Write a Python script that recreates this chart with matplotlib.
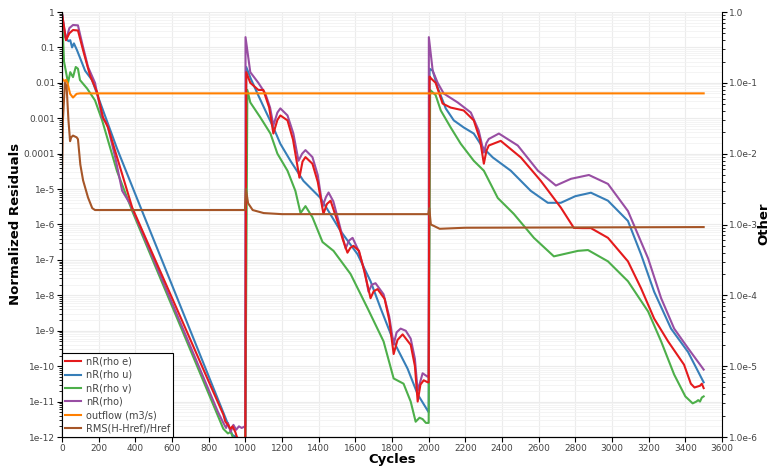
import matplotlib
matplotlib.use("Agg")
import matplotlib.pyplot as plt
import matplotlib.ticker as mticker
import numpy as np

plt.rcParams['font.family'] = ['DejaVu Sans']

# nR(rho)  (purple)
rho_x = [0, 22, 40, 60, 87, 110, 142, 180, 219, 246, 290, 328, 372, 450, 550, 650, 750, 850,
         880, 895, 905, 920, 935, 950, 965, 980, 998, 1000, 1001,
         1027, 1071, 1109, 1135, 1153, 1175, 1191, 1230, 1262, 1290, 1310, 1328, 1366, 1395, 1421, 1440,
         1454, 1480, 1503, 1547, 1565, 1585, 1618, 1650,
         1672, 1690, 1710, 1754, 1785, 1809, 1825, 1847, 1875, 1902, 1925, 1940, 1967, 1995, 2000, 2001,
         2022, 2049, 2082, 2158, 2230, 2273, 2301, 2315, 2328, 2383, 2486, 2596, 2694, 2776, 2874, 2978,
         3087, 3197, 3268, 3339, 3415, 3500]
rho_y = [9.0e-1, 1.6e-1, 3.5e-1, 4.3e-1, 4.2e-1, 1.3e-1, 2.8e-2, 1.0e-2, 1.05e-3, 7.0e-4, 8.0e-5, 9.0e-6,
         3.8e-6, 4.2e-7, 2.5e-8, 1.5e-9, 8.9e-11, 5.2e-12,
         2.5e-12, 1.8e-12, 2.5e-12, 1.4e-12, 2.2e-12, 1.6e-12, 2.0e-12, 1.8e-12, 2.0e-12, 2.0e-12, 1.95e-1,
         2.0e-2, 1.0e-2, 5.0e-3, 2.0e-3, 6.3e-4, 1.45e-3, 1.9e-3, 1.2e-3, 3.7e-4, 6.3e-5, 1.0e-4, 1.26e-4,
         8.0e-5, 2.5e-5, 3.2e-6, 6.0e-6,
         8.0e-6, 4.5e-6, 1.6e-6, 2.1e-7, 3.5e-7, 4.2e-7, 1.8e-7, 5.0e-8,
         1.26e-8, 2.0e-8, 2.2e-8, 1.07e-8, 2.5e-9, 4.1e-10, 9.0e-10, 1.15e-9, 1.0e-9, 6.0e-10, 1.6e-10,
         2.0e-11, 6.3e-11, 5.0e-11, 5.0e-11, 1.95e-1,
         2.2e-2, 1.0e-2, 5.0e-3, 2.8e-3, 1.45e-3, 4.5e-4, 1.07e-4, 2.0e-4, 2.6e-4, 3.7e-4, 1.7e-4, 3.3e-5,
         1.26e-5, 1.95e-5, 2.5e-5, 1.4e-5,
         2.4e-6, 1.1e-7, 8.3e-9, 1.15e-9, 3.2e-10, 8.0e-11]

# nR(rho e)  (red)
rhoe_x = [0, 22, 40, 60, 87, 115, 153, 191, 224, 251, 300, 383, 500, 650, 800, 880, 891, 905, 918, 930,
          945, 960, 1000, 1005,
          1027, 1071, 1098, 1130, 1153, 1175, 1191, 1230, 1260, 1295, 1312, 1328, 1366, 1395, 1426, 1445,
          1465, 1508, 1530, 1557, 1573,
          1590, 1620, 1650, 1683, 1700, 1721, 1760, 1785, 1809, 1830, 1858, 1902, 1925, 1940, 1955, 1973,
          1995, 2000, 2005,
          2015, 2038, 2076, 2120, 2191, 2246, 2280, 2301, 2315, 2328, 2393, 2503, 2612, 2721, 2792, 2840,
          2885, 2978, 3087, 3158, 3230, 3306, 3393, 3430, 3450, 3480, 3490, 3500]
rhoe_y = [9.0e-1, 1.6e-1, 2.5e-1, 3.1e-1, 3.0e-1, 8.3e-2, 1.6e-2, 5.5e-3, 1.05e-3, 5.5e-4, 8.0e-5, 3.0e-6,
          1.26e-7, 2.2e-9, 3.7e-11, 4.3e-12, 2.7e-12, 2.2e-12, 1.7e-12, 2.0e-12,
          1.4e-12, 8.0e-13, 8.0e-13, 2.0e-2,
          1.0e-2, 6.3e-3, 6.3e-3, 2.0e-3, 3.7e-4, 9.0e-4, 1.2e-3, 8.7e-4, 2.5e-4, 2.1e-5, 6.0e-5, 8.0e-5,
          5.2e-5, 1.6e-5, 2.0e-6, 3.8e-6,
          4.7e-6, 1.0e-6, 4.0e-7, 1.6e-7, 2.2e-7,
          2.5e-7, 1.8e-7, 4.5e-8, 8.3e-9, 1.3e-8, 1.5e-8, 7.9e-9, 2.0e-9, 2.2e-10, 5.5e-10, 7.9e-10,
          4.0e-10, 1.0e-10, 1.0e-11, 3.0e-11, 4.0e-11,
          3.5e-11, 3.5e-11, 1.5e-2,
          1.3e-2, 1.0e-2, 2.6e-3, 2.0e-3, 1.66e-3, 8.7e-4, 2.5e-4, 5.2e-5, 1.2e-4, 1.7e-4, 2.3e-4, 7.8e-5,
          1.7e-5, 3.0e-6, 8.0e-7, 7.9e-7,
          7.9e-7, 4.2e-7, 9.1e-8, 1.6e-8, 2.2e-9, 5.0e-10, 1.1e-10, 3.2e-11, 2.5e-11, 2.8e-11, 3.2e-11,
          2.4e-11]

# nR(rho u)  (blue)
rhou_x = [0, 16, 35, 45, 55, 65, 82, 126, 164, 197, 300, 426, 600, 800, 929, 950, 973, 1000, 1005,
          1030, 1066, 1109, 1153, 1191, 1246, 1317, 1410, 1519, 1612, 1683, 1738, 1809, 1885, 1940, 2000,
          2005, 2022, 2049, 2093, 2137, 2191, 2246, 2295, 2350, 2448, 2557, 2650, 2721, 2800, 2885, 2978,
          3087, 3158, 3230, 3322, 3415, 3500]
rhou_y = [9.0e-1, 2.0e-1, 1.5e-1, 1.6e-1, 1.0e-1, 1.3e-1, 8.3e-2, 2.2e-2, 1.2e-2, 4.0e-3, 1.4e-4, 3.3e-6,
          1.95e-8, 5.2e-11, 1.15e-12, 1.0e-12, 8.7e-13, 8.0e-13, 2.8e-2,
          1.3e-2, 5.0e-3, 1.66e-3, 5.5e-4, 1.9e-4, 6.3e-5, 1.7e-5, 5.6e-6, 6.6e-7, 1.45e-7, 2.5e-8, 4.3e-9,
          5.0e-10, 8.5e-11, 1.6e-11, 5.0e-12,
          2.5e-2, 2.2e-2, 7.4e-3, 1.9e-3, 8.7e-4, 5.5e-4, 3.7e-4, 1.5e-4, 7.8e-5, 3.3e-5, 8.9e-6, 4.1e-6,
          4.1e-6, 6.3e-6, 7.9e-6, 4.7e-6,
          1.26e-6, 1.45e-7, 1.26e-8, 1.15e-9, 2.5e-10, 3.5e-11]

# nR(rho v)  (green)
rhov_x = [0, 11, 33, 45, 60, 75, 87, 98, 137, 180, 219, 300, 383, 500, 650, 800, 880, 905, 920, 935,
          1000, 1011,
          1027, 1082, 1137, 1175, 1230, 1273, 1301, 1328, 1366, 1421, 1481, 1574, 1667, 1754, 1809, 1863,
          1902, 1929, 1950, 1967, 1985, 2000, 2008,
          2038, 2066, 2120, 2175, 2246, 2301, 2377, 2464, 2574, 2683, 2814, 2869, 2978, 3087, 3197, 3268,
          3339, 3400, 3440, 3460, 3470, 3480, 3490, 3500]
rhov_y = [9.0e-1, 4.0e-2, 1.0e-2, 2.0e-2, 1.45e-2, 2.8e-2, 2.5e-2, 1.2e-2, 6.9e-3, 3.2e-3, 8.7e-4, 3.2e-5,
          2.4e-6, 8.5e-8, 1.2e-9, 1.66e-11, 1.7e-12, 1.26e-12, 1.4e-12, 9.0e-13,
          8.0e-13, 6.3e-3,
          2.8e-3, 1.05e-3, 3.7e-4, 1.0e-4, 3.3e-5, 8.9e-6, 2.1e-6, 3.3e-6, 1.6e-6, 3.2e-7, 1.8e-7, 4.0e-8,
          4.3e-9, 5.0e-10, 4.5e-11, 3.2e-11,
          1.0e-11, 2.7e-12, 3.5e-12, 3.2e-12, 2.5e-12, 2.5e-12, 6.3e-3,
          4.5e-3, 1.66e-3, 5.5e-4, 1.9e-4, 6.3e-5, 3.3e-5, 5.6e-6, 2.0e-6, 4.2e-7, 1.26e-7, 1.8e-7, 1.9e-7,
          9.1e-8, 2.5e-8, 3.5e-9, 5.0e-10,
          5.8e-11, 1.4e-11, 8.9e-12, 1.0e-11, 1.1e-11, 1.0e-11, 1.3e-11, 1.4e-11]

# outflow (m3/s)  (orange, right axis)
outflow_x = [0, 15, 22, 30, 44, 60, 80, 98, 3500]
outflow_y = [1.15e-1, 1.05e-1, 1.1e-1, 1.0e-1, 7.0e-2, 6.2e-2, 7.0e-2, 7.1e-2, 7.1e-2]

# RMS(H-Href)/Href  (brown, right axis)
rms_x = [0, 5, 16, 25, 35, 44, 50, 60, 80, 87, 100, 115, 142, 165, 180, 219, 998,
         1003, 1015, 1040, 1100, 1200, 1998, 2003, 2012, 2030, 2060, 2200, 3500]
rms_y = [5.0e-3, 3.0e-2, 1.0e-1, 9.0e-2, 3.0e-2, 1.5e-2, 1.7e-2, 1.8e-2, 1.7e-2, 1.6e-2, 7.0e-3, 4.2e-3,
         2.4e-3, 1.7e-3, 1.6e-3, 1.6e-3, 1.6e-3,
         3.2e-3, 2.0e-3, 1.6e-3, 1.45e-3, 1.4e-3, 1.4e-3, 1.7e-3, 1.0e-3, 9.5e-4, 8.7e-4, 9.0e-4, 9.2e-4]

left_ticks = [1, 0.1, 0.01, 0.001, 0.0001, 1e-5, 1e-6, 1e-7, 1e-8, 1e-9, 1e-10, 1e-11, 1e-12]
left_labels = ["1", "0.1", "0.01", "0.001", "0.0001", "1e-5", "1e-6", "1e-7", "1e-8", "1e-9",
               "1e-10", "1e-11", "1e-12"]
right_ticks = [1, 1e-1, 1e-2, 1e-3, 1e-4, 1e-5, 1e-6]
right_labels = ["1.0", "1.0e-1", "1.0e-2", "1.0e-3", "1.0e-4", "1.0e-5", "1.0e-6"]

fig = plt.figure(figsize=(7.73, 4.69), dpi=100)
ax = fig.add_axes([62 / 773, 32 / 469, 660 / 773, 425 / 469])
ax2 = ax.twinx()

tc = "#444444"
lw = 1.5
l1, = ax.plot(rhoe_x, rhoe_y, color="#e41a1c", lw=lw, label="nR(rho e)", zorder=3)
l2, = ax.plot(rhou_x, rhou_y, color="#377eb8", lw=lw, label="nR(rho u)", zorder=2)
l3, = ax.plot(rhov_x, rhov_y, color="#4daf4a", lw=lw, label="nR(rho v)", zorder=2)
l4, = ax.plot(rho_x, rho_y, color="#984ea3", lw=lw, label="nR(rho)", zorder=2.5)
l5, = ax2.plot(outflow_x, outflow_y, color="#ff7f00", lw=lw, label="outflow (m3/s)")
l6, = ax2.plot(rms_x, rms_y, color="#a65628", lw=lw, label="RMS(H-Href)/Href")

ax.set_yscale("log")
ax.set_ylim(1e-12, 1)
ax.set_xlim(0, 3600)
ax.set_xticks(np.arange(0, 3601, 200))
ax.set_yticks(left_ticks)
ax.set_yticklabels(left_labels)
ax.yaxis.set_minor_locator(mticker.LogLocator(base=10, subs=np.arange(2, 10), numticks=50))
ax.yaxis.set_minor_formatter(mticker.NullFormatter())

ax2.set_yscale("log")
ax2.set_ylim(1e-6, 1)
ax2.set_yticks(right_ticks)
ax2.set_yticklabels(right_labels)
ax2.yaxis.set_minor_locator(mticker.LogLocator(base=10, subs=np.arange(2, 10), numticks=50))
ax2.yaxis.set_minor_formatter(mticker.NullFormatter())

ax.grid(True, which="major", color="#ececec", lw=0.8)
ax.grid(True, which="minor", axis="y", color="#f3f3f3", lw=0.6)
ax.set_axisbelow(True)

for a in (ax, ax2):
    a.spines["top"].set_visible(False)
    a.tick_params(which="major", labelsize=6.5, labelcolor=tc, length=3.5, width=0.8, pad=1.5)
    a.tick_params(which="minor", length=2.2, width=0.6)
ax.spines["right"].set_visible(False)

# axis titles placed in figure coordinates so they stay inside the canvas
fig.text(392 / 773, 1 - 459 / 469, "Cycles", fontsize=9.5, fontweight="bold", ha="center", va="center")
fig.text(16 / 773, 1 - 224 / 469, "Normalized Residuals", fontsize=9.5, fontweight="bold",
         rotation=90, ha="center", va="center")
fig.text(764 / 773, 1 - 224 / 469, "Other", fontsize=9.5, fontweight="bold",
         rotation=90, ha="center", va="center")

leg = ax2.legend(handles=[l1, l2, l3, l4, l5, l6], loc="lower left", fontsize=7, frameon=True,
                 fancybox=False, borderaxespad=0, handlelength=1.6, labelspacing=0.35,
                 borderpad=0.35, handletextpad=0.5)
leg.get_frame().set_edgecolor("black")
leg.get_frame().set_linewidth(0.8)
leg.get_frame().set_alpha(1)
for t in leg.get_texts():
    t.set_color(tc)

fig.savefig("out.png", dpi=100)
